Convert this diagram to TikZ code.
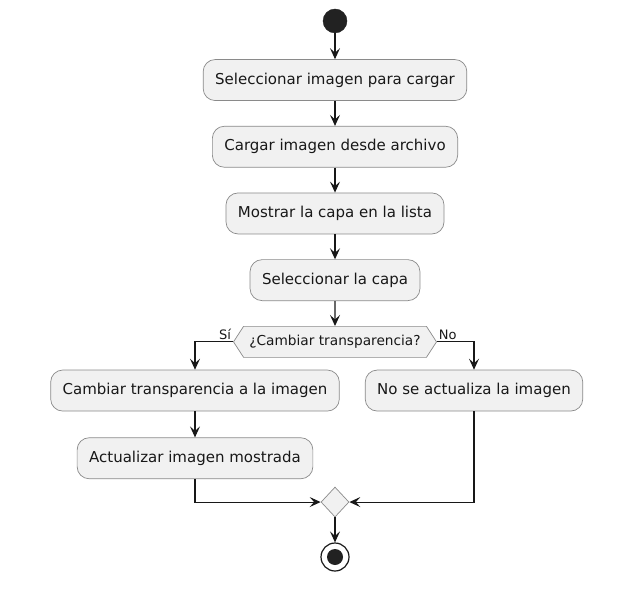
\documentclass[tikz,border=0pt]{standalone}
\usepackage{fontspec}
\setmainfont{DejaVu Sans}
\usepackage{tikz}
\usetikzlibrary{shapes.geometric, shapes.symbols, arrows.meta, positioning, calc}
\usepackage{xcolor}
\definecolor{boxfill}{HTML}{F1F1F1}
\definecolor{boxline}{HTML}{8A8A8A}
\definecolor{ink}{HTML}{181818}
\definecolor{dot}{HTML}{222222}
\tikzset{
    action/.style={
        rectangle, rounded corners=12pt, minimum height=41pt, inner xsep=12pt,
        text centered, fill=boxfill, draw=boxline, line width=0.7pt,
        font=\fontsize{15}{18}\selectfont, text=ink
    },
    choice/.style={
        signal, signal to=west and east, signal pointer angle=114,
        minimum width=203pt, minimum height=31pt, inner xsep=2pt, inner ysep=2pt,
        fill=boxfill, draw=boxline, line width=0.7pt,
        font=\fontsize{13.7}{16}\selectfont, text=ink
    },
    merge/.style={
        diamond, minimum width=28pt, minimum height=30pt, inner sep=0pt,
        fill=boxfill, draw=boxline, line width=0.7pt
    },
    startdot/.style={
        circle, minimum size=24pt, inner sep=0pt, fill=dot, draw=dot
    },
    enddot/.style={
        circle, minimum size=28pt, inner sep=0pt, fill=white, draw=ink, line width=1.2pt,
        path picture={\fill[dot] (path picture bounding box.center) circle (8pt);}
    },
    arrow/.style={
        -{Stealth[length=11pt, width=10pt, inset=4.5pt]}, line width=1.1pt, draw=ink
    },
    lbl/.style={
        font=\fontsize{13}{15}\selectfont, text=ink, inner sep=1.5pt
    }
}

\begin{document}
\begin{tikzpicture}[x=1pt, y=1pt, node distance=25pt]

    \useasboundingbox (0,0) rectangle (644,-593);

    \node[startdot] (start) at (335,-21) {};
    \node[action, below=26pt of start] (pick)   {Seleccionar imagen para cargar};
    \node[action, below=of pick]       (load)   {Cargar imagen desde archivo};
    \node[action, below=of load]       (show)   {Mostrar la capa en la lista};
    \node[action, below=of show]       (layer)  {Seleccionar la capa};
    \node[choice, below=of layer]      (ask)    {¿Cambiar transparencia?};

    \node[action, below=12pt of ask, xshift=-140pt] (alpha)  {Cambiar transparencia a la imagen};
    \node[action, below=12pt of ask, xshift=139pt]  (keep)   {No se actualiza la imagen};
    \node[action, below=26pt of alpha]              (update) {Actualizar imagen mostrada};

    \node[merge, below=129pt of ask] (join) {};
    \node[enddot, below=of join]     (stop) {};

    \draw[arrow] (start) -- (pick);
    \draw[arrow] (pick)  -- (load);
    \draw[arrow] (load)  -- (show);
    \draw[arrow] (show)  -- (layer);
    \draw[arrow] (layer) -- (ask);

    \draw[arrow] (ask.west) -| (alpha.north) node[pos=0, anchor=south east, lbl] {Sí};
    \draw[arrow] (ask.east) -| (keep.north)  node[pos=0, anchor=south west, lbl] {No};
    \draw[arrow] (alpha) -- (update);

    \draw[arrow] (update.south) |- (join.west);
    \draw[arrow] (keep.south)   |- (join.east);
    \draw[arrow] (join) -- (stop);

\end{tikzpicture}
\end{document}
